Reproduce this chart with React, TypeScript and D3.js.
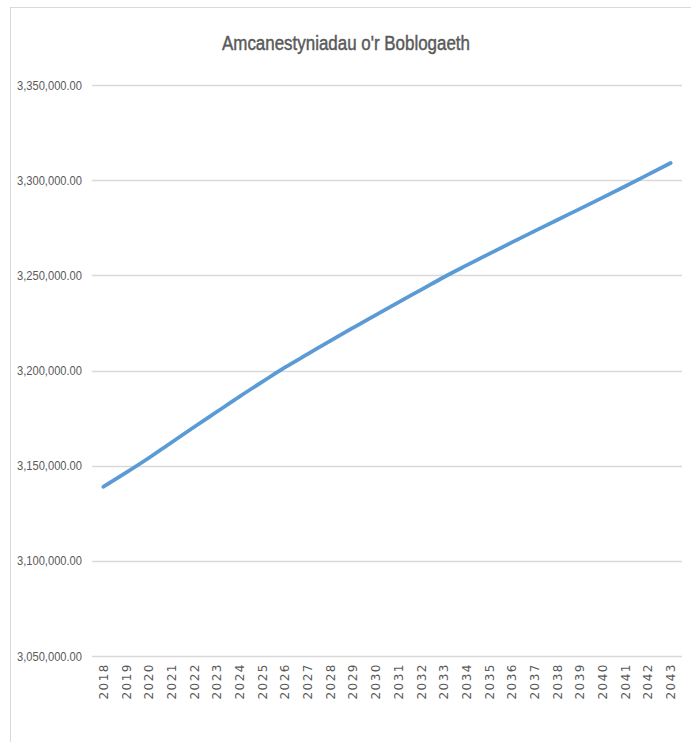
import * as d3 from "d3";

const years = [
  "2018", "2019", "2020", "2021", "2022", "2023", "2024", "2025", "2026",
  "2027", "2028", "2029", "2030", "2031", "2032", "2033", "2034", "2035",
  "2036", "2037", "2038", "2039", "2040", "2041", "2042", "2043",
];
const population = [
  3138900, 3146300, 3154000, 3162200, 3170300, 3178300, 3186300, 3194000, 3201600,
  3208600, 3215600, 3222400, 3229100, 3235800, 3242400, 3249000, 3255200, 3261300,
  3267300, 3273200, 3279100, 3284900, 3290800, 3296800, 3302900, 3309000,
];
const yTicks = [3050000, 3100000, 3150000, 3200000, 3250000, 3300000, 3350000];
const title = "Amcanestyniadau o'r Boblogaeth";

const W = 691;
const H = 742;
const plot = {left: 92, right: 682, top: 85, bottom: 656};
const grey = "#595959";
const gridColor = "#D9D9D9";
const narrow = "'Liberation Sans', Arial, sans-serif";

export default function App() {
  const x = d3.scaleBand<string>().domain(years).range([plot.left, plot.right]);
  const y = d3.scaleLinear().domain([3050000, 3350000]).range([plot.bottom, plot.top]);
  const cx = (d: string) => (x(d) || 0) + x.bandwidth() / 2;
  const fmt = d3.format(",.2f");

  const line = d3.line<number>()
    .x((_, i) => cx(years[i]))
    .y(d => y(d))
    .curve(d3.curveMonotoneX);

  return (
    <svg width={W} height={H} style={{position: "absolute", left: 0, top: 0, background: "#fff"}}>
      {/* chart frame */}
      <line x1={10.5} x2={10.5} y1={7} y2={H} stroke={gridColor} />
      <line x1={10} x2={W} y1={7.5} y2={7.5} stroke={gridColor} />

      <text x={222} y={50} textLength={248} lengthAdjust="spacingAndGlyphs" fill={grey}
            stroke={grey} strokeWidth={0.45}
            style={{fontFamily: narrow, fontSize: 20}}>
        {title}
      </text>

      {yTicks.map(t => (
        <g key={t}>
          <line x1={plot.left} x2={plot.right} y1={Math.round(y(t)) + 0.5} y2={Math.round(y(t)) + 0.5}
                stroke={gridColor} strokeWidth={1.5} />
          <text x={17} y={y(t)} dy="0.35em" textLength={65} lengthAdjust="spacingAndGlyphs" fill={grey}
                style={{fontFamily: narrow, fontSize: 13}}>
            {fmt(t)}
          </text>
        </g>
      ))}

      {years.map(d => (
        <text key={d} transform={`translate(${cx(d) + 4.5},${plot.bottom + 7}) rotate(-90)`}
              textAnchor="end" fill={grey}
              style={{fontFamily: "'DejaVu Sans', sans-serif", fontSize: 12, letterSpacing: 1.5}}>
          {d}
        </text>
      ))}

      <path d={line(population) || ""} fill="none" stroke="#5B9BD5" strokeWidth={3.75}
            strokeLinecap="round" strokeLinejoin="round" />
    </svg>
  );
}
